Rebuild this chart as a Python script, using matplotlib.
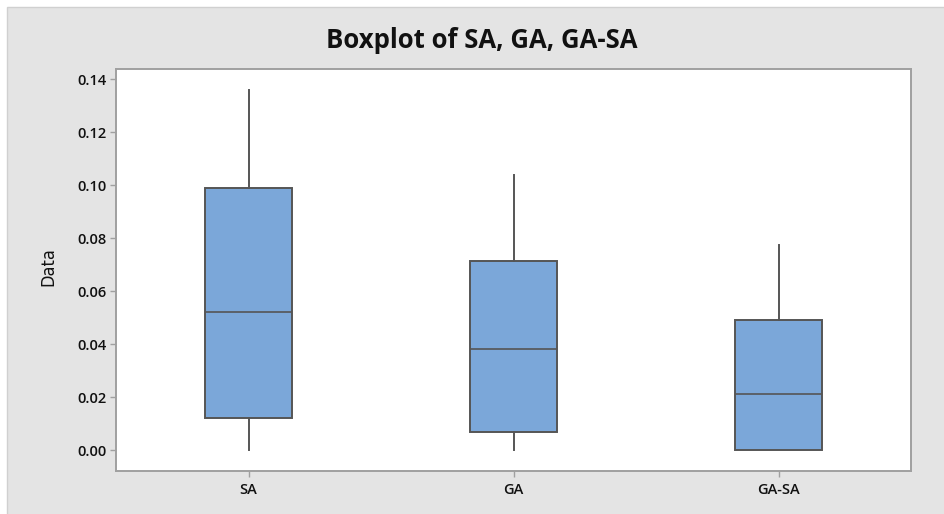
import matplotlib
matplotlib.use("Agg")
import matplotlib.pyplot as plt
from matplotlib.patches import Rectangle

# Five-number summaries for each series
categories = ["SA", "GA", "GA-SA"]
whisker_low = [0.0, 0.0, 0.0]
q1 = [0.012, 0.007, 0.0]
medians = [0.052, 0.038, 0.021]
q3 = [0.099, 0.0715, 0.049]
whisker_high = [0.136, 0.104, 0.0775]
yticks = [0.00, 0.02, 0.04, 0.06, 0.08, 0.10, 0.12, 0.14]

W, H = 944, 514
fig = plt.figure(figsize=(W / 100, H / 100), dpi=100, facecolor="white")

# gray panel behind the chart
fig.patches.append(Rectangle((7 / W, -0.05), 1, 1.05 - 7 / H, transform=fig.transFigure,
                             facecolor="#e4e4e4", edgecolor="#d0d0d0", linewidth=1.0,
                             zorder=-5))

left, right, top, bottom = 116, 911, 69, 471
ax = fig.add_axes([left / W, 1 - bottom / H, (right - left) / W, (bottom - top) / H])
ax.set_zorder(2)
ax.set_facecolor("white")

stats = []
for i, name in enumerate(categories):
    stats.append(dict(label=name, whislo=whisker_low[i], q1=q1[i], med=medians[i],
                      q3=q3[i], whishi=whisker_high[i], fliers=[]))

edge = "#555555"
ax.bxp(stats, positions=[1, 2, 3], widths=0.33, patch_artist=True, showcaps=False,
       boxprops=dict(facecolor="#7ba7d9", edgecolor=edge, linewidth=1.4),
       medianprops=dict(color=edge, linewidth=1.2),
       whiskerprops=dict(color=edge, linewidth=1.4))

ax.set_xlim(0.5, 3.5)
ax.set_ylim(-0.0079, 0.1439)
ax.set_yticks(yticks)
ax.set_yticklabels([f"{v:.2f}" for v in yticks])

for s in ax.spines.values():
    s.set_color("#a0a0a0")
    s.set_linewidth(1.4)

ax.tick_params(axis="both", colors="#a0a0a0", length=4, width=1.0, labelcolor="#111111",
               labelsize=10.5)
for lab in ax.get_xticklabels() + ax.get_yticklabels():
    lab.set_fontfamily("Open Sans")
    lab.set_fontweight("semibold")
ax.tick_params(axis="x", pad=5)
ax.tick_params(axis="y", pad=3)

fig.text(482 / W, 1 - 41 / H, "Boxplot of SA, GA, GA-SA", ha="center", va="center",
         fontsize=18.5, fontweight="bold", family="Open Sans", color="#111111")
fig.text(48 / W, 1 - 267 / H, "Data", ha="center", va="center", rotation=90,
         fontsize=13, family="DejaVu Sans", stretch="condensed", color="#111111")

fig.savefig("out.png", dpi=100, facecolor=fig.get_facecolor())
